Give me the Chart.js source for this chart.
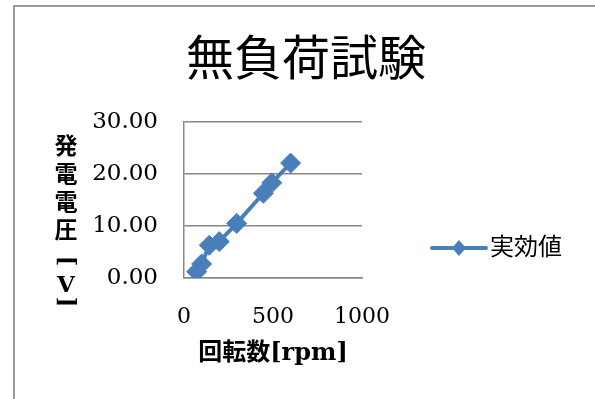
<!DOCTYPE html>
<html>
<head>
<meta charset="utf-8">
<script src="https://cdn.jsdelivr.net/npm/chart.js@4/dist/chart.umd.min.js"></script>
<style>
  html, body { margin: 0; padding: 0; background: #ffffff; }
  #wrap { width: 595px; height: 399px; position: relative; }
</style>
</head>
<body>
<div id="wrap"><canvas id="c" width="595" height="399"></canvas></div>
<script>
// Measured no-load test: generator speed vs. generated RMS voltage
const rpm = [71, 99, 142, 198, 296, 446, 493, 599];
const voltage = [1.2, 2.7, 6.3, 7.0, 10.5, 16.3, 18.3, 22.1];
const seriesName = '実効値';
const chartTitle = '無負荷試験';
const xAxisTitle = '回転数[rpm]';
const yAxisTitle = '発電電圧[V]';
const xTickValues = [0, 500, 1000];
const yTickValues = [0, 10, 20, 30];

const BLUE = '#4a7ebb';
const GRID = '#878787';
const SERIF = '"DejaVu Serif", "Noto Sans CJK JP", serif';
const SANS = '"Noto Sans CJK JP", "Noto Sans", sans-serif';

// Frame, title, vertical axis title and legend drawn around the plot
const decorations = {
  id: 'decorations',
  afterDraw(chart) {
    const ctx = chart.ctx;
    ctx.save();

    // outer frame (top and left edges visible)
    ctx.strokeStyle = '#9a9a9a';
    ctx.lineWidth = 2;
    ctx.beginPath();
    ctx.moveTo(14, 400);
    ctx.lineTo(14, 6);
    ctx.lineTo(600, 6);
    ctx.stroke();

    // chart title, centred over the whole frame
    ctx.fillStyle = '#000';
    ctx.font = '48px ' + SANS;
    ctx.textAlign = 'center';
    ctx.textBaseline = 'middle';
    ctx.fillText(chartTitle, 306, 57);

    // vertical y-axis title, one character per row; brackets turned
    ctx.font = 'bold 23px ' + SERIF;
    const cx = 66;
    let y = 134;
    for (const ch of Array.from(yAxisTitle)) {
      let cell = 28;
      if (ch === '[') cell = 30;
      else if (ch === ']') cell = 12;
      else if (/[A-Za-z]/.test(ch)) cell = 20;
      const cy = y + cell / 2;
      if (ch === '[' || ch === ']') {
        ctx.save();
        ctx.translate(cx, cy);
        ctx.rotate(Math.PI / 2);
        ctx.fillText(ch, 0, 0);
        ctx.restore();
      } else {
        ctx.fillText(ch, cx, cy);
      }
      y += cell;
    }

    // legend: line with diamond marker, then series name
    const ds = chart.data.datasets[0];
    const ly = 248;
    ctx.strokeStyle = ds.borderColor;
    ctx.lineWidth = 4;
    ctx.lineCap = 'round';
    ctx.beginPath();
    ctx.moveTo(432, ly);
    ctx.lineTo(486, ly);
    ctx.stroke();
    ctx.fillStyle = ds.borderColor;
    ctx.beginPath();
    ctx.moveTo(459, ly - 8);
    ctx.lineTo(466, ly);
    ctx.lineTo(459, ly + 8);
    ctx.lineTo(452, ly);
    ctx.closePath();
    ctx.fill();
    ctx.fillStyle = '#000';
    ctx.font = '24px ' + SANS;
    ctx.textAlign = 'left';
    ctx.fillText(ds.label, 490, ly - 2);

    ctx.restore();
  }
};

new Chart(document.getElementById('c'), {
  type: 'scatter',
  data: {
    datasets: [{
      label: seriesName,
      data: rpm.map((r, i) => ({ x: r, y: voltage[i] })),
      showLine: true,
      borderColor: BLUE,
      backgroundColor: BLUE,
      borderWidth: 4,
      pointStyle: 'rectRot',
      pointRadius: 10,
      pointBorderWidth: 1,
      pointBackgroundColor: BLUE,
      pointBorderColor: BLUE
    }]
  },
  options: {
    responsive: false,
    animation: false,
    devicePixelRatio: 1,
    layout: { padding: { left: 0, right: 233, top: 122, bottom: 0 } },
    plugins: {
      legend: { display: false },
      tooltip: { enabled: false },
      title: { display: false }
    },
    scales: {
      x: {
        type: 'linear',
        min: xTickValues[0],
        max: xTickValues[xTickValues.length - 1],
        afterBuildTicks: s => { s.ticks = xTickValues.map(v => ({ value: v })); },
        afterFit: s => { s.height = 121; },
        grid: { display: false, drawTicks: false },
        border: { display: true, color: GRID, width: 1.5 },
        ticks: {
          color: '#000',
          padding: 26,
          maxRotation: 0,
          font: { family: SERIF, size: 22 },
          callback: v => String(v)
        },
        title: {
          display: true,
          text: xAxisTitle,
          color: '#000',
          font: { family: SERIF, size: 24, weight: 'bold', lineHeight: 1.2 },
          padding: { top: 0, bottom: 31 }
        }
      },
      y: {
        type: 'linear',
        min: yTickValues[0],
        max: yTickValues[yTickValues.length - 1],
        afterBuildTicks: s => { s.ticks = yTickValues.map(v => ({ value: v })); },
        afterFit: s => { s.width = 184; },
        grid: { color: GRID, lineWidth: 1.5, drawTicks: false },
        border: { display: true, color: GRID, width: 1.5 },
        ticks: {
          color: '#000',
          padding: 26,
          font: { family: SERIF, size: 23 },
          callback: v => Number(v).toFixed(2)
        }
      }
    }
  },
  plugins: [decorations]
});
</script>
</body>
</html>
